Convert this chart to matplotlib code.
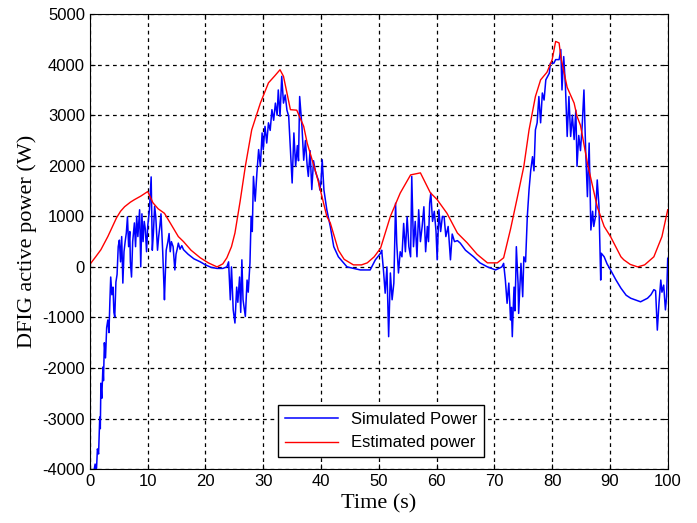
import numpy as np
import matplotlib.pyplot as plt

plt.rcParams['axes.unicode_minus'] = False

# estimated power (red)
t_est = [0, 1.0, 1.9, 3.1, 4.6, 5.3, 6.0, 7.0, 7.7, 8.8, 10.0, 10.9, 11.8, 12.9,
         14.0, 15.3, 16.2, 17.5, 19.1, 20.5, 22.0, 23.0, 23.7, 24.5, 25.1, 26.0,
         26.9, 28.0, 29.5, 30.9, 32.0, 32.9, 33.5, 34.1, 34.7, 35.8, 37.0, 37.6,
         39.3, 41.0, 41.6, 43.0, 44.0, 45.6, 47.0, 48.0, 49.2, 50.3, 52.0, 53.7,
         55.5, 57.2, 58.9, 60.1, 61.8, 63.6, 65.3, 67.0, 68.8, 70.5, 71.6, 72.8,
         74.0, 75.1, 76.0, 77.1, 78.0, 79.1, 80.0, 80.6, 81.2, 81.5, 82.6, 83.8,
         84.3, 84.9, 86.1, 87.8, 89.0, 90.1, 91.9, 92.4, 93.5, 94.8, 96.0, 97.6,
         99.0, 100.0]
p_est = [50, 200, 340, 600, 970, 1100, 1190, 1280, 1330, 1400, 1490, 1270, 1150, 1060,
         850, 600, 500, 330, 180, 80, 0, 60, 180, 400, 670, 1300,
         1990, 2710, 3240, 3640, 3780, 3900, 3770, 3440, 3110, 3100, 2780, 2450,
         1790, 1000, 870, 330, 150, 40, 40, 80, 200, 370, 1000, 1460,
         1820, 1860, 1470, 1330, 1060, 670, 475, 250, 80, 80, 180, 750,
         1390, 1990, 2710, 3370, 3700, 3850, 4100, 4460, 4430, 4150, 3550, 3240,
         2980, 2800, 2050, 1190, 800, 600, 200, 140, 50, 0, 40, 200,
         600, 1130]

# simulated power (blue)
t_sim = [0.0, 0.05, 0.6, 0.9, 1.1, 1.3, 1.5, 1.7, 1.8, 1.9, 2.05, 2.25, 2.35, 2.5,
         2.7, 2.9, 3.1, 3.3, 3.45, 3.6, 3.8, 4.0, 4.15, 4.3, 4.5, 4.7, 4.9, 5.1,
         5.3, 5.5, 5.7, 5.9, 6.1, 6.3, 6.5, 6.7, 6.9, 7.0, 7.2, 7.4, 7.7, 7.9,
         8.1, 8.3, 8.6, 8.8, 9.0, 9.2, 9.4, 9.6, 9.8, 10.0, 10.3, 10.6, 10.8, 11.0,
         11.2, 11.4, 11.7, 11.9, 12.1, 12.3, 12.6, 12.9, 13.0, 13.2, 13.5, 13.7,
         13.9, 14.1, 14.4, 14.7, 14.9, 15.1, 15.3, 15.6, 15.9, 16.2, 17.0, 18.0,
         19.1, 20.0, 21.0, 22.0, 23.0, 23.7, 24.0, 24.3, 24.5, 24.8, 25.1, 25.4,
         25.6, 25.9, 26.1, 26.3, 26.5, 26.9, 27.2, 27.4, 27.7, 27.9, 28.1, 28.3,
         28.6, 28.9, 29.2, 29.5, 29.8, 30.0, 30.3, 30.6, 30.9, 31.2, 31.5, 31.8,
         32.1, 32.4, 32.6, 32.9, 33.2, 33.5, 33.8, 34.1, 34.4, 34.7, 35.0, 35.3,
         35.6, 35.9, 36.1, 36.3, 36.7, 37.0, 37.3, 37.6, 37.8, 38.1, 38.4, 38.7,
         39.0, 39.3, 39.6, 39.8, 40.0, 40.2, 40.5, 41.0, 41.6, 42.2, 43.0, 44.5,
         46.8, 48.5, 49.4, 50.3, 50.5, 50.8, 51.1, 51.4, 51.7, 52.0, 52.3, 52.6,
         52.9, 53.1, 53.4, 53.7, 54.0, 54.3, 54.6, 54.9, 55.2, 55.5, 55.7, 56.0,
         56.3, 56.6, 56.9, 57.2, 57.5, 57.8, 58.1, 58.4, 58.6, 58.8, 59.0, 59.3,
         59.6, 59.9, 60.1, 60.4, 60.7, 61.0, 61.3, 61.6, 62.0, 62.4, 62.7, 63.1,
         63.6, 64.1, 65.0, 66.4, 67.5, 68.8, 70.2, 71.3, 71.6, 71.9, 72.2, 72.5,
         72.8, 72.95, 73.1, 73.25, 73.4, 73.55, 73.7, 73.8, 74.1, 74.2, 74.6, 74.9,
         75.1, 75.4, 75.7, 76.0, 76.3, 76.6, 76.85, 77.1, 77.4, 77.7, 78.0, 78.3,
         78.6, 78.9, 79.5, 79.7, 80.3, 80.6, 81.2, 81.5, 81.7, 82.0, 82.3, 82.6,
         82.9, 83.2, 83.5, 83.8, 84.1, 84.3, 84.6, 84.9, 85.2, 85.5, 85.8, 86.1,
         86.4, 86.7, 87.0, 87.2, 87.5, 87.8, 88.1, 88.4, 88.5, 89.0, 89.5, 90.1,
         91.0, 91.9, 92.8, 93.6, 95.3, 96.5, 97.1, 97.6, 97.9, 98.2, 98.5, 98.8,
         99.0, 99.3, 99.6, 99.8, 100.0]
p_sim = [0, -4100, -4100, -3900, -4100, -3600, -3700, -2970, -3200, -2300, -2600, -1980, -2250, -1500,
         -1800, -1200, -1050, -1300, -700, -200, -550, -400, -900, -990, -300, -150, 400, 530,
         100, 600, -320, 300, 500, 670, 990, 400, 700, 100, -200, 500, 870, 400,
         1000, 600, 1130, 0, 1050, 500, 900, 740, 300, 800, 1130, 1780, 330, 700,
         1200, 990, 330, 600, 800, 1050, 300, -650, -300, 330, 500, 660,
         300, 500, 400, -60, 250, 350, 470, 350, 420, 340, 250, 160,
         100, 40, -10, -30, -30, 0, 100, -650, 0, -850, -1110, -400,
         -700, -200, -900, 140, -650, -980, -260, -500, 80, 1000, 700, 1790,
         1300, 1860, 2320, 1990, 2650, 2320, 2780, 2450, 2850, 2700, 3110, 2900,
         3240, 3000, 3500, 2980, 3770, 3240, 3400, 3100, 2980, 2320, 1660, 2650,
         1990, 2400, 2100, 3370, 2770, 2110, 2500, 2000, 1790, 2300, 1530, 2100,
         1900, 1790, 1700, 1520, 1700, 2120, 1520, 1130, 800, 400, 200, 0,
         -60, -60, 140, 270, 330, -60, -520, 0, -1380, -120, -650, -320,
         1260, 470, -120, 300, 200, 860, 300, 990, 400, 200, 1790, 400,
         900, 200, 1130, 500, 800, 1190, 300, 800, 500, 1260, 1460, 900,
         1100, 700, 140, 1130, 700, 1000, 990, 600, 800, 140, 650, 500,
         520, 470, 330, 200, 80, 0, -60, 0, 70, -260, -720, -320,
         -1050, -800, -1380, -850, -400, -870, -200, 400, -330, -920, 70, -590,
         200, 100, 1000, 1530, 1920, 2180, 1900, 2710, 2850, 3370, 2850, 3440,
         3300, 3700, 3830, 4030, 4030, 4100, 4100, 4300, 3500, 4160, 3570, 2580,
         3370, 2580, 3000, 2520, 3100, 1990, 2600, 2300, 2800, 3500, 2300, 1390,
         2450, 730, 1100, 800, 1000, 1720, 1200, -260, 270, 200, 60, -60,
         -250, -420, -560, -620, -690, -620, -550, -450, -470, -1250, -700, -260,
         -500, -360, -850, -600, 170]

fig = plt.figure(figsize=(6.97, 5.23), dpi=100)
ax = fig.add_axes([0.129, 0.103, 0.829, 0.870])

ax.plot(t_sim, p_sim, color='#0000ff', lw=1.1, label='Simulated Power')
ax.plot(t_est, p_est, color='#ff0000', lw=1.0, label='Estimated power')

ax.set_xlim(0, 100)
ax.set_ylim(-4000, 5000)
ax.set_xticks(np.arange(0, 101, 10))
ax.set_yticks(np.arange(-4000, 5001, 1000))
ax.grid(True, color='black', linestyle=(0, (3, 3)), lw=0.9)
ax.tick_params(direction='in', top=True, right=True, labelsize=12)
for lab in ax.get_xticklabels() + ax.get_yticklabels():
    lab.set_family('Liberation Sans')

ax.set_xlabel('Time (s)', family='Liberation Serif', fontsize=16)
ax.set_ylabel('DFIG active power (W)', family='Liberation Serif', fontsize=16)

leg = ax.legend(loc='lower center', bbox_to_anchor=(0.504, 0.008), fancybox=False,
                edgecolor='black', framealpha=1, prop={'family': 'Liberation Sans', 'size': 12},
                handlelength=3.2)
leg.get_frame().set_linewidth(1.0)

fig.savefig('out.png', dpi=100)
